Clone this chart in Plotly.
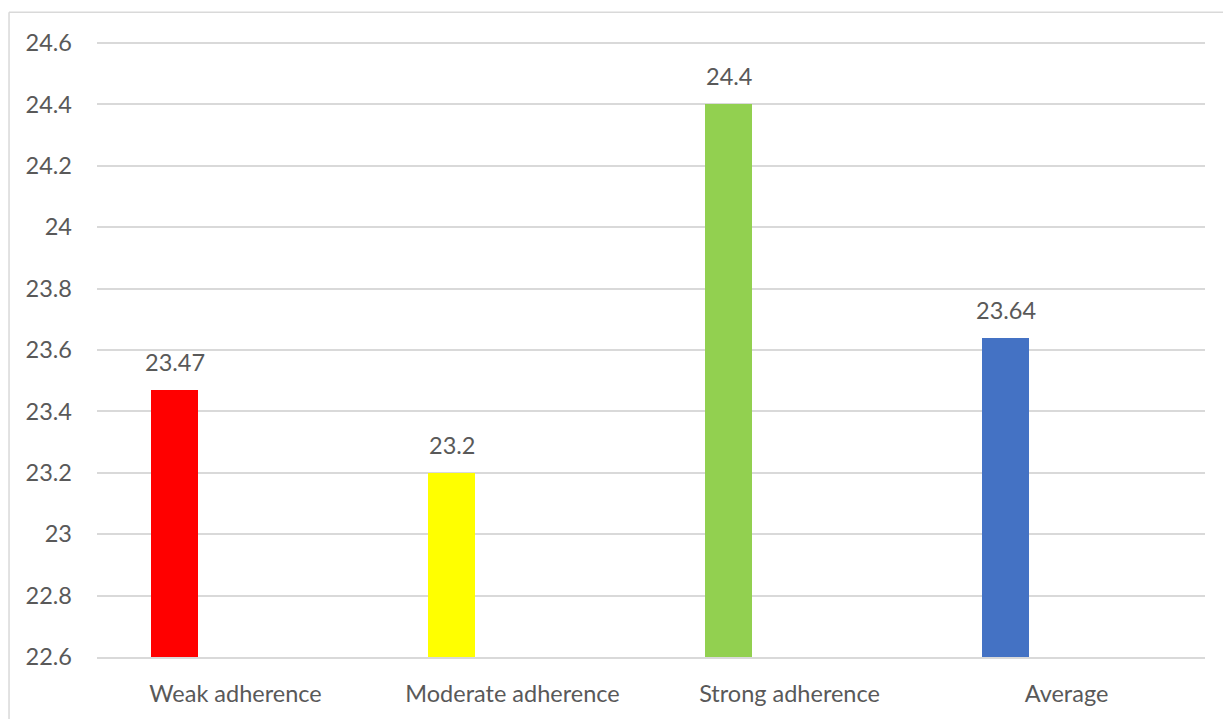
import plotly.graph_objects as go

categories = ["Weak adherence", "Moderate adherence", "Strong adherence", "Average"]
values = [23.47, 23.2, 24.4, 23.64]
labels = ["23.47", "23.2", "24.4", "23.64"]
colors = ["#FF0000", "#FFFF00", "#92D050", "#4472C4"]
y_ticks = [22.6, 22.8, 23.0, 23.2, 23.4, 23.6, 23.8, 24.0, 24.2, 24.4, 24.6]
y_tick_text = ["22.6", "22.8", "23", "23.2", "23.4", "23.6", "23.8", "24", "24.2", "24.4", "24.6"]

FONT = "Lato"
TXT = "#595959"
GRID = "#D9D9D9"
FS = 23.5
BAR_W = 0.17
BAR_OFF = -0.305

fig = go.Figure()
fig.add_trace(go.Bar(
    x=categories,
    y=[v - 22.6 for v in values],
    base=22.6,
    marker=dict(color=colors, line=dict(width=0)),
    width=BAR_W,
    offset=BAR_OFF,
    hoverinfo="skip",
    showlegend=False,
))

for c, v, t in zip(categories, values, labels):
    fig.add_annotation(
        x=c, y=v, xref="x", yref="y", text=t, showarrow=False,
        yanchor="bottom", yshift=12,
        xshift=(BAR_OFF + BAR_W / 2) * 277,
        font=dict(family=FONT, size=FS, color=TXT),
    )

# outer chart border (left and top edges visible)
fig.add_shape(type="line", xref="paper", yref="paper",
              x0=-0.0794, x1=-0.0794, y0=1.045, y1=-0.2,
              line=dict(color=GRID, width=1.5))
fig.add_shape(type="line", xref="paper", yref="paper",
              x0=-0.0794, x1=1.2, y0=1.045, y1=1.045,
              line=dict(color=GRID, width=1.5))

fig.update_layout(
    width=1223, height=719,
    margin=dict(l=97, r=18, t=40, b=58),
    paper_bgcolor="white", plot_bgcolor="white",
    font=dict(family=FONT, size=FS, color=TXT),
    bargap=0,
    xaxis=dict(
        showgrid=False, showline=True, linecolor=GRID, linewidth=1.5,
        ticks="", ticklabelstandoff=15,
        tickfont=dict(family=FONT, size=FS, color=TXT),
        range=[-0.5, 3.5],
    ),
    yaxis=dict(
        range=[22.6, 24.61],
        tickvals=y_ticks, ticktext=y_tick_text,
        showgrid=True, gridcolor=GRID, gridwidth=1.5,
        zeroline=False, showline=False, ticks="",
        ticklabelstandoff=24,
        tickfont=dict(family=FONT, size=FS, color=TXT),
    ),
)

fig.write_html("out.html")
